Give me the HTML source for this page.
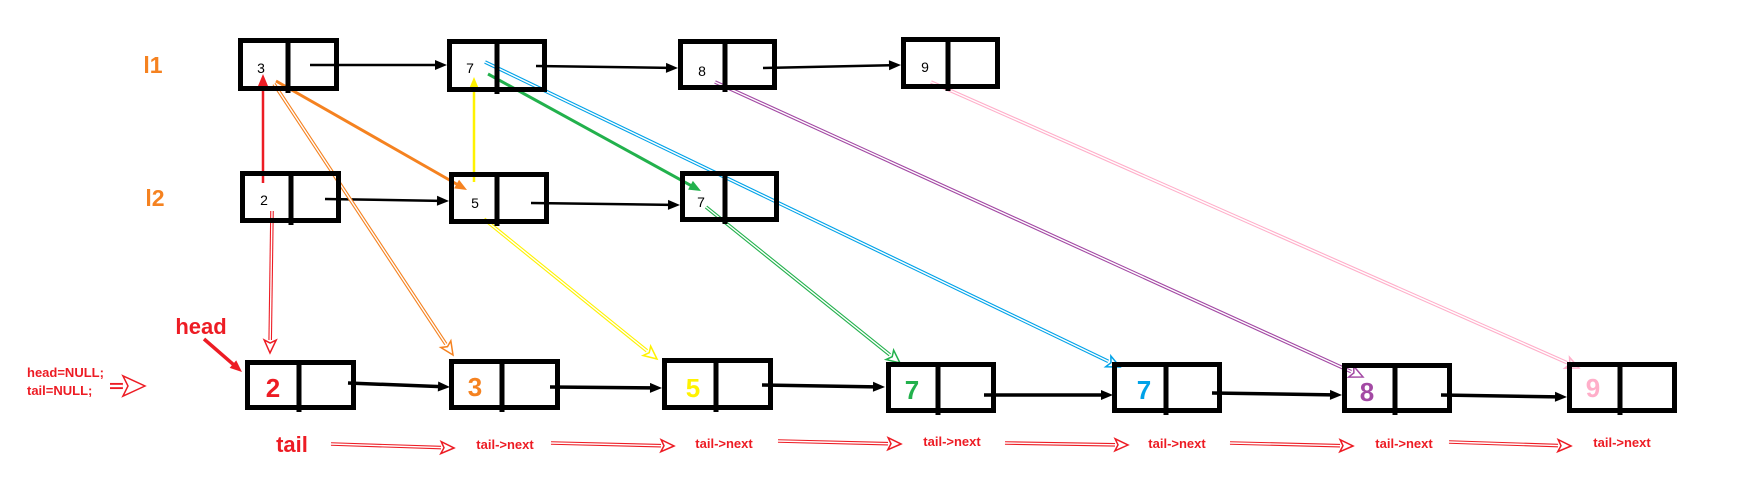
<!DOCTYPE html>
<html><head><meta charset="utf-8"><style>
html,body{margin:0;padding:0;background:#fff;width:1739px;height:500px;overflow:hidden}
svg{display:block}
text{font-family:"Liberation Sans",sans-serif}
</style></head><body>
<svg id="s" width="1739" height="500" xmlns="http://www.w3.org/2000/svg">
<g id="lines"></g>
<g id="boxes" fill="none" stroke="#000" stroke-width="5"></g>
<g id="txt">
<text x="153" y="73" font-size="23" font-weight="bold" fill="#f58220" text-anchor="middle">l1</text>
<text x="155" y="206" font-size="23" font-weight="bold" fill="#f58220" text-anchor="middle">l2</text>
<text x="261" y="73" font-size="14" text-anchor="middle">3</text>
<text x="470" y="73" font-size="14" text-anchor="middle">7</text>
<text x="702" y="76" font-size="14" text-anchor="middle">8</text>
<text x="925" y="72" font-size="14" text-anchor="middle">9</text>
<text x="264" y="205" font-size="14" text-anchor="middle">2</text>
<text x="475" y="208" font-size="14" text-anchor="middle">5</text>
<text x="701" y="207" font-size="14" text-anchor="middle">7</text>
<text x="27" y="377" font-size="13" font-weight="bold" fill="#ed1c24">head=NULL;</text>
<text x="27" y="395" font-size="13" font-weight="bold" fill="#ed1c24">tail=NULL;</text>
<text x="201" y="334" font-size="22" font-weight="bold" fill="#ed1c24" text-anchor="middle">head</text>
<text x="292" y="452" font-size="22" font-weight="bold" fill="#ed1c24" text-anchor="middle">tail</text>
<g font-size="26" font-weight="bold" text-anchor="middle">
<text x="273" y="397" fill="#ed1c24">2</text>
<text x="475" y="396" fill="#f58220">3</text>
<text x="693" y="397" fill="#fff200">5</text>
<text x="912" y="399" fill="#22b14c">7</text>
<text x="1144" y="399" fill="#00a2e8">7</text>
<text x="1367" y="401" fill="#a349a4">8</text>
<text x="1593" y="397" fill="#ffaec9">9</text>
</g>
<g font-size="13" font-weight="bold" fill="#ed1c24" text-anchor="middle">
<text x="505" y="449">tail-&gt;next</text>
<text x="724" y="448">tail-&gt;next</text>
<text x="952" y="446">tail-&gt;next</text>
<text x="1177" y="448">tail-&gt;next</text>
<text x="1404" y="448">tail-&gt;next</text>
<text x="1622" y="447">tail-&gt;next</text>
</g>
</g>
</svg>
<script>
var NS="http://www.w3.org/2000/svg";
var L=document.getElementById("lines"),B=document.getElementById("boxes");
function el(p,n,a){var e=document.createElementNS(NS,n);for(var k in a)e.setAttribute(k,a[k]);p.appendChild(e);return e;}
function box(x1,y1,x2,y2,d){el(B,"rect",{x:x1+2.5,y:y1+2.5,width:x2-x1-5,height:y2-y1-5});el(B,"line",{x1:d,y1:y1,x2:d,y2:y2+2});}
function solid(x1,y1,x2,y2,c,w){var dx=x2-x1,dy=y2-y1,l=Math.hypot(dx,dy),ux=dx/l,uy=dy/l,nx=-uy,ny=ux,h=12,hw=5;
el(L,"line",{x1:x1,y1:y1,x2:x2-ux*h*0.8,y2:y2-uy*h*0.8,stroke:c,"stroke-width":w});
el(L,"polygon",{points:x2+","+y2+" "+(x2-ux*h+nx*hw)+","+(y2-uy*h+ny*hw)+" "+(x2-ux*h-nx*hw)+","+(y2-uy*h-ny*hw),fill:c});}
function dbl(x1,y1,x2,y2,c,s){s=s||1;var dx=x2-x1,dy=y2-y1,l=Math.hypot(dx,dy),ux=dx/l,uy=dy/l,nx=-uy,ny=ux,h=13*s,hw=6*s;
var ex=x2-ux*h,ey=y2-uy*h;
el(L,"line",{x1:x1,y1:y1,x2:ex,y2:ey,stroke:c,"stroke-width":3.6*s});
el(L,"line",{x1:x1,y1:y1,x2:ex,y2:ey,stroke:"#fff","stroke-width":1.4*s});
el(L,"polygon",{points:x2+","+y2+" "+(ex+nx*hw)+","+(ey+ny*hw)+" "+(ex+ux*3*s)+","+(ey+uy*3*s)+" "+(ex-nx*hw)+","+(ey-ny*hw),fill:"#fff",stroke:c,"stroke-width":1.5});}
// boxes
box(238,38,339,91,288);box(447,39,547,92,497);box(678,39,777,90,725);box(901,37,1000,89,948);
box(240,171,341,223,291);box(449,172,549,224,497);box(680,171,779,222,725);
box(245,360,356,410,299);box(449,359,560,410,502);box(662,358,773,410,716);box(886,362,996,413,938);
box(1112,362,1222,413,1166);box(1342,363,1452,413,1395);box(1567,362,1677,413,1620);
// black arrows
solid(310,65,447,65,"#000",2.5);solid(536,66,678,68,"#000",2.5);solid(763,68,901,65,"#000",2.5);
solid(325,199,449,201,"#000",2.5);solid(531,203,680,205,"#000",2.5);
solid(348,383,450,387,"#000",3.5);solid(550,387,662,388,"#000",3.5);solid(762,385,885,387,"#000",3.5);
solid(984,395,1113,395,"#000",3.5);solid(1212,393,1342,395,"#000",3.5);solid(1441,395,1567,397,"#000",3.5);
// colored
solid(263,183,263,74,"#ed1c24",2.5);
solid(276,81,467,190,"#f58220",3);
solid(474,182,474,77,"#fff200",2.5);
solid(488,74,701,191,"#22b14c",3);
dbl(272,211,270,353,"#ed1c24");
dbl(274,84,453,355,"#f58220");
dbl(484,219,657,359,"#fff200");
dbl(706,207,900,363,"#22b14c");
dbl(485,62,1120,367,"#00a2e8");
dbl(715,82,1363,377,"#a349a4");
dbl(931,82,1579,368,"#ffaec9");
// head arrow
solid(204,339,242,372,"#ed1c24",3.5);
dbl(110,386,145,386,"#ed1c24",1.7);
// tail->next arrows
dbl(331,444,454,448,"#ed1c24");dbl(551,443,674,446,"#ed1c24");dbl(778,441,901,444,"#ed1c24");
dbl(1005,443,1128,445,"#ed1c24");dbl(1230,443,1353,446,"#ed1c24");dbl(1449,442,1571,446,"#ed1c24");
</script>
</body></html>
